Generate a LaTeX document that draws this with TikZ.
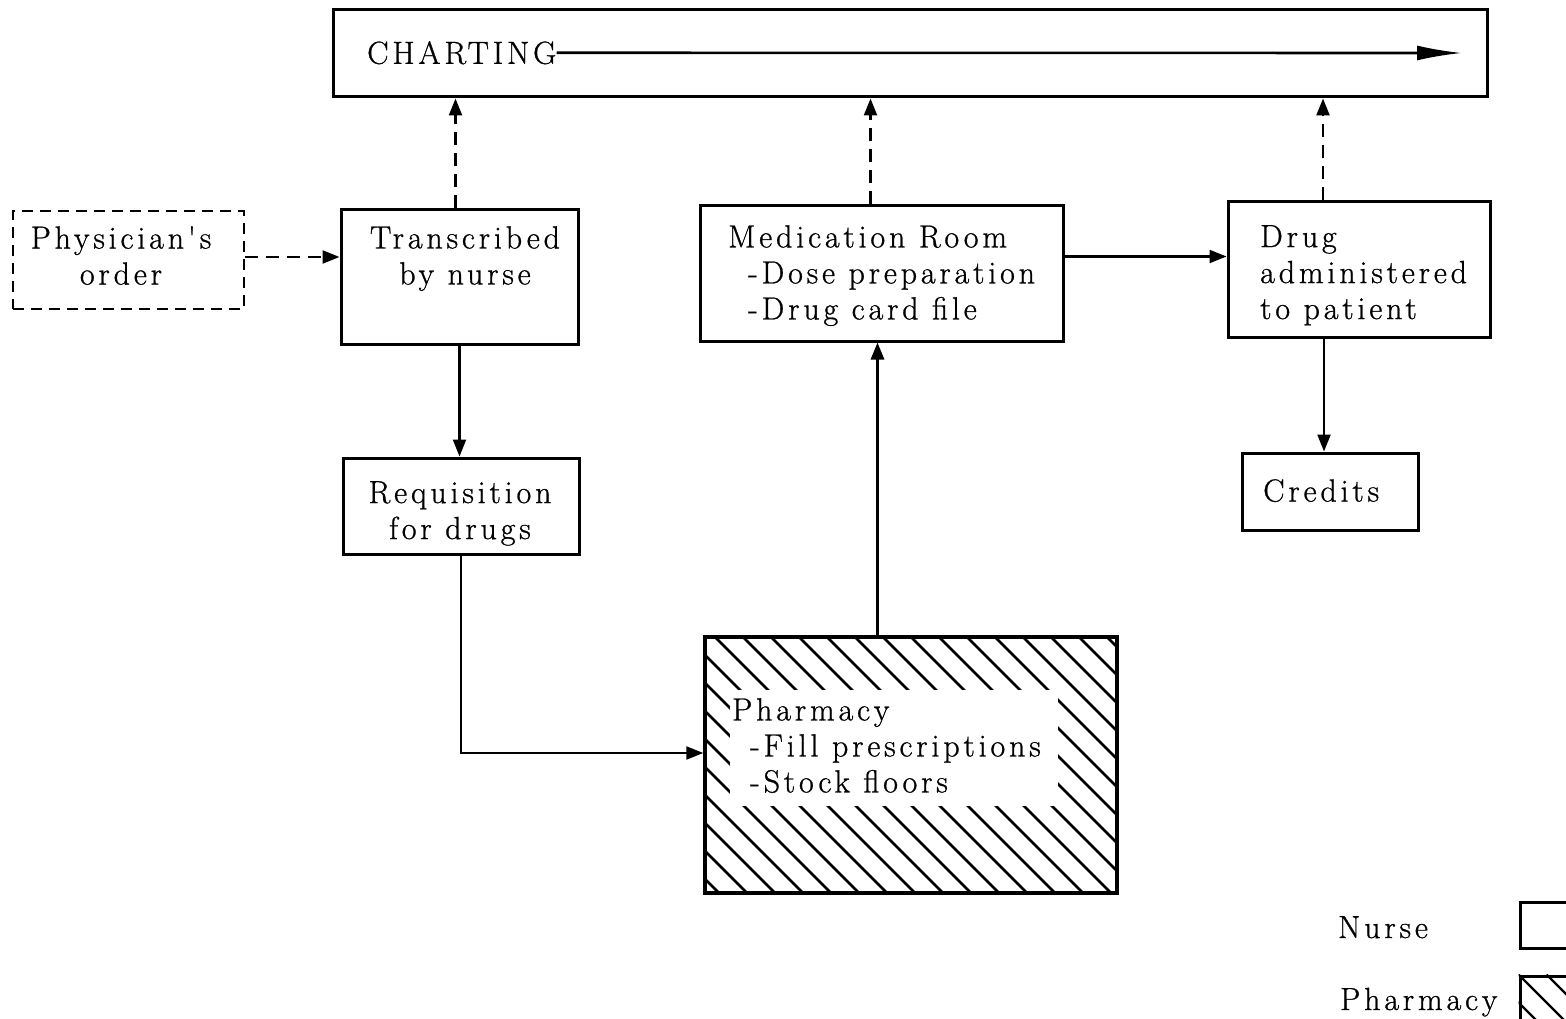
\documentclass[tikz,border=0pt]{standalone}
\usepackage{fontspec}
\usetikzlibrary{arrows.meta,calc}
\newfontfamily\spfont{Latin Modern Roman}[LetterSpace=12,FakeBold=0.8]
\newcommand{\lbfont}{\fontsize{32}{36}\selectfont\spfont}
\begin{document}
\begin{tikzpicture}[x=1pt,y=-1pt,
  box/.style={draw, line width=3pt, inner sep=0pt},
  dbox/.style={box, line width=2.6pt, dash pattern=on 11pt off 7pt},
  lbl/.style={inner sep=0pt, font=\lbfont},
  arr/.style={line width=2.2pt, -{Triangle[length=17pt,width=13pt]}},
  darr/.style={arr, line width=2.4pt, dash pattern=on 13pt off 8pt},
  hatch/.style={line width=2.8pt}]
\useasboundingbox (0,0) rectangle (1566,1019);
% boxes
\node[box, minimum width=1154pt, minimum height=87pt] (chart) at (910,53.5) {};
\node[dbox, minimum width=231pt, minimum height=98pt] (phys) at (128.5,260) {};
\node[box, minimum width=237pt, minimum height=134pt] (trans) at (459.5,277) {};
\node[box, minimum width=236pt, minimum height=96pt] (req) at (461,506) {};
\node[box, line width=3.4pt, minimum width=412pt, minimum height=256pt] (pharm) at (911,765) {};
\node[box, minimum width=363pt, minimum height=135pt] (med) at (881.5,273.5) {};
\node[box, minimum width=262pt, minimum height=135pt] (drug) at (1359,269.5) {};
\node[box, minimum width=176pt, minimum height=77pt] (cred) at (1330,491.5) {};
\node[box, minimum width=50pt, minimum height=46pt] (legN) at (1545,925) {};
\node[box, minimum width=50pt, minimum height=48pt] (legP) at (1545,1000) {};
% hatching
\begin{scope}
\clip (pharm.north west) rectangle (pharm.south east);
\foreach \i in {0,...,25} \draw[hatch] ($(pharm.north west)+(\i*28-270,0)$) -- ++(300,300);
\end{scope}
\fill[white] (730,690) rectangle (1058,806);
\node[box, line width=3.4pt, minimum width=412pt, minimum height=256pt] (pharmB) at (911,765) {};
\begin{scope}
\clip (legP.north west) rectangle (legP.south east);
\foreach \i in {0,1,2} \draw[line width=2.4pt] ($(legP.north west)+(\i*28-28,0)$) -- ++(80,80);
\end{scope}
% labels
\node[lbl, anchor=north west] (chartT) at (367,41) {CHARTING};
\coordinate (chartEnd) at (1462,53);
\node[lbl, anchor=north, align=center] (physT) at (121,226) {Physician's\\order};
\node[lbl, anchor=north, align=center] (transT) at (465,226) {Transcribed\\by nurse};
\node[lbl, anchor=north, align=center] (reqT) at (460,481) {Requisition\\for drugs};
\node[lbl, anchor=north west, align=left] (medT) at (728,225) {Medication Room\\\hspace{20pt}-Dose preparation\\\hspace{20pt}-Drug card file};
\node[lbl, anchor=north west, align=left] (drugT) at (1260,225) {Drug\\administered\\to patient};
\node[lbl, anchor=north west] (credT) at (1263,479) {Credits};
\node[lbl, anchor=north west, align=left] (pharmT) at (732,698) {Pharmacy\\\hspace{18pt}-Fill prescriptions\\\hspace{18pt}-Stock floors};
\node[lbl, anchor=base west] (legNT) at (1338,938) {Nurse};
\node[lbl, anchor=base west] (legPT) at (1340,1010) {Pharmacy};
% connectors
\draw[line width=2.6pt, -{Latex[length=45pt,width=15pt]}] (chartT.east) -- (chartEnd);
\draw[darr] ($(phys.east)+(0,-3)$) -- ($(phys.east -| trans.west)+(0,-3)$);
\draw[darr] ([xshift=-4pt]trans.north) -- ([xshift=-4pt]trans.north |- chart.south);
\draw[arr] (trans.south) -- (trans.south |- req.north);
\draw[arr] (req.south) |- ($(pharm.west)+(0,-12)$);
\draw[arr, line width=3pt] ([xshift=-4pt]med.south |- pharm.north) -- ([xshift=-4pt]med.south);
\draw[darr] ([xshift=-11pt]med.north) -- ([xshift=-11pt]med.north |- chart.south);
\draw[arr] ($(med.east)+(0,-17)$) -- ($(med.east -| drug.west)+(0,-17)$);
\draw[darr] ([xshift=-36pt]drug.north) -- ([xshift=-36pt]drug.north |- chart.south);
\draw[arr] ([xshift=-6pt]cred.north |- drug.south) -- ([xshift=-6pt]cred.north);
\end{tikzpicture}
\end{document}
